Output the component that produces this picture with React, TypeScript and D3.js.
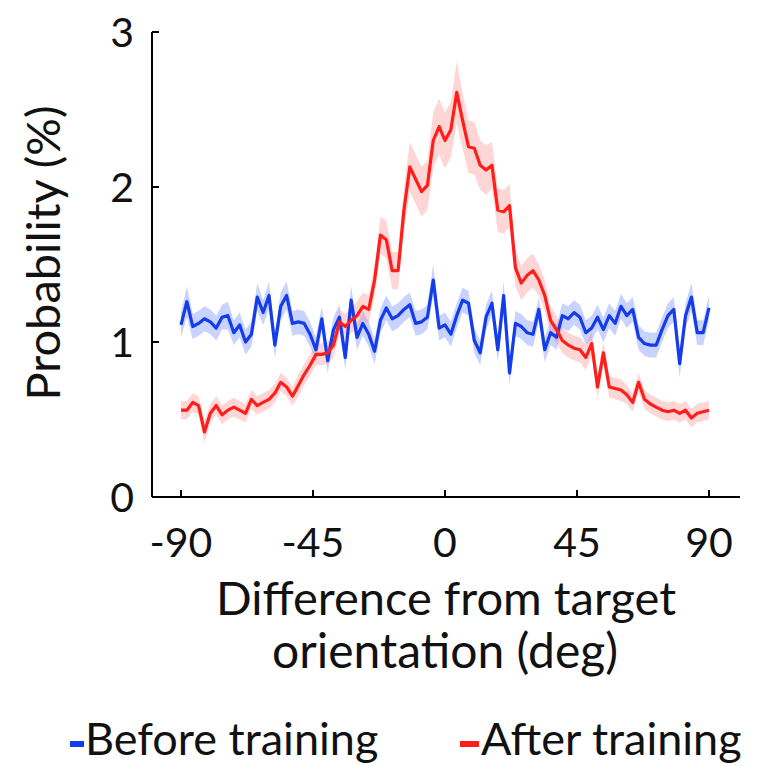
import React from "react";
import * as d3 from "d3";

const xValues: number[] = d3.range(-90, 91, 2);

const beforeMean: number[] = [
  1.11, 1.26, 1.10, 1.12, 1.15, 1.13, 1.09, 1.16, 1.17, 1.06,
  1.11, 1.00, 1.05, 1.29, 1.19, 1.30, 0.98, 1.23, 1.30, 1.12,
  1.13, 1.12, 1.05, 0.95, 1.15, 0.88, 1.08, 1.16, 0.90, 1.27,
  1.03, 1.12, 1.05, 0.94, 1.14, 1.22, 1.15, 1.17, 1.21, 1.24,
  1.12, 1.13, 1.16, 1.40, 1.09, 1.11, 1.05, 1.17, 1.27, 1.25,
  1.01, 0.93, 1.16, 1.25, 0.95, 1.30, 0.80, 1.12, 1.10, 1.06,
  1.05, 1.21, 0.95, 1.06, 1.03, 1.17, 1.15, 1.19, 1.16, 1.06,
  1.09, 1.16, 1.08, 1.17, 1.12, 1.23, 1.17, 1.21, 1.03, 0.99,
  0.98, 0.98, 1.08, 1.17, 1.21, 0.86, 1.17, 1.29, 1.06, 1.06,
  1.22,
];

const afterMean: number[] = [
  0.56, 0.56, 0.61, 0.59, 0.42, 0.54, 0.59, 0.53, 0.56, 0.58,
  0.56, 0.54, 0.63, 0.59, 0.61, 0.63, 0.67, 0.74, 0.71, 0.65,
  0.72, 0.79, 0.85, 0.92, 0.92, 0.93, 0.98, 1.13, 1.10, 1.14,
  1.17, 1.23, 1.21, 1.40, 1.69, 1.66, 1.46, 1.46, 1.85, 2.13,
  2.05, 1.97, 2.01, 2.30, 2.39, 2.30, 2.37, 2.61, 2.43, 2.26,
  2.25, 2.14, 2.11, 2.14, 1.85, 1.84, 1.88, 1.48, 1.38, 1.43,
  1.46, 1.40, 1.30, 1.14, 1.08, 1.01, 0.98, 0.96, 0.95, 0.90,
  0.99, 0.71, 0.93, 0.71, 0.70, 0.69, 0.66, 0.61, 0.74, 0.63,
  0.60, 0.58, 0.56, 0.55, 0.56, 0.54, 0.56, 0.51, 0.54, 0.55,
  0.56,
];

const beforeErr: number[] = [
  0.08, 0.10, 0.08, 0.08, 0.08, 0.08, 0.08, 0.08, 0.09, 0.08,
  0.08, 0.08, 0.08, 0.09, 0.08, 0.09, 0.08, 0.09, 0.09, 0.08,
  0.08, 0.08, 0.08, 0.08, 0.08, 0.08, 0.08, 0.08, 0.08, 0.09,
  0.08, 0.08, 0.08, 0.08, 0.08, 0.08, 0.08, 0.08, 0.08, 0.08,
  0.08, 0.08, 0.08, 0.10, 0.08, 0.08, 0.08, 0.08, 0.08, 0.08,
  0.08, 0.08, 0.08, 0.08, 0.08, 0.09, 0.08, 0.08, 0.08, 0.08,
  0.08, 0.08, 0.08, 0.08, 0.08, 0.08, 0.08, 0.08, 0.08, 0.08,
  0.08, 0.08, 0.08, 0.08, 0.08, 0.08, 0.08, 0.08, 0.08, 0.08,
  0.08, 0.08, 0.08, 0.08, 0.08, 0.09, 0.08, 0.09, 0.08, 0.08,
  0.08,
];

const afterErr: number[] = [
  0.06, 0.06, 0.06, 0.06, 0.07, 0.06, 0.06, 0.06, 0.06, 0.06,
  0.06, 0.06, 0.06, 0.06, 0.06, 0.06, 0.06, 0.06, 0.06, 0.06,
  0.07, 0.07, 0.07, 0.07, 0.07, 0.07, 0.08, 0.08, 0.08, 0.08,
  0.09, 0.09, 0.09, 0.10, 0.12, 0.12, 0.12, 0.12, 0.14, 0.16,
  0.16, 0.16, 0.16, 0.18, 0.18, 0.18, 0.18, 0.20, 0.18, 0.17,
  0.17, 0.16, 0.16, 0.15, 0.14, 0.14, 0.14, 0.12, 0.11, 0.11,
  0.11, 0.10, 0.10, 0.09, 0.09, 0.08, 0.08, 0.08, 0.08, 0.08,
  0.08, 0.07, 0.07, 0.07, 0.07, 0.07, 0.06, 0.06, 0.06, 0.06,
  0.06, 0.06, 0.06, 0.06, 0.06, 0.06, 0.06, 0.06, 0.06, 0.06,
  0.06,
];

const xTicks: number[] = [-90, -45, 0, 45, 90];
const yTicks: number[] = [0, 1, 2, 3];

const FONT = "Lato, 'Open Sans', sans-serif";

export default function App() {
  const W = 768;
  const H = 766;
  const x = d3.scaleLinear().domain([-90, 90]).range([181, 709]);
  const y = d3.scaleLinear().domain([0, 3]).range([497, 32]);

  const mkArea = (mean: number[], err: number[]) =>
    d3
      .area<number>()
      .x((_, i) => x(xValues[i]))
      .y0((d, i) => y(d - err[i]))
      .y1((d, i) => y(d + err[i]))(mean) || "";
  const mkLine = (mean: number[]) =>
    d3
      .line<number>()
      .x((_, i) => x(xValues[i]))
      .y((d) => y(d))(mean) || "";

  const axisLeft = 152;
  const axisRight = 740;
  const axisBottom = 497;

  return (
    <svg
      width={W}
      height={H}
      style={{ position: "absolute", left: 0, top: 0, background: "#fff" }}
    >
      <rect x={0} y={0} width={W} height={H} fill="#fff" />
      <path d={mkArea(beforeMean, beforeErr)} fill="rgb(120,145,255)" fillOpacity={0.4} />
      <path d={mkArea(afterMean, afterErr)} fill="rgb(255,120,120)" fillOpacity={0.3} />
      <path d={mkLine(beforeMean)} fill="none" stroke="rgb(20,60,235)" strokeWidth={3.2} strokeLinejoin="round" />
      <path d={mkLine(afterMean)} fill="none" stroke="rgb(255,30,25)" strokeWidth={3.2} strokeLinejoin="round" />

      {/* axes */}
      <line x1={axisLeft} x2={axisLeft} y1={32} y2={axisBottom} stroke="#000" strokeWidth={2} />
      <line x1={axisLeft} x2={axisRight} y1={axisBottom} y2={axisBottom} stroke="#000" strokeWidth={2} />
      {yTicks.map((t) => (
        <g key={"y" + t}>
          <line x1={axisLeft} x2={axisLeft + 7} y1={y(t)} y2={y(t)} stroke="#000" strokeWidth={2} />
          <text
            x={axisLeft - 18}
            y={y(t)}
            dy="0.36em"
            textAnchor="end"
            fontFamily={FONT}
            fontSize={41}
            fill="#111"
          >
            {t}
          </text>
        </g>
      ))}
      {xTicks.map((t) => (
        <g key={"x" + t}>
          <line x1={x(t)} x2={x(t)} y1={axisBottom} y2={axisBottom - 7} stroke="#000" strokeWidth={2} />
          <text
            x={x(t)}
            y={557}
            textAnchor="middle"
            fontFamily={FONT}
            fontSize={41}
            fill="#111"
          >
            {t}
          </text>
        </g>
      ))}

      <text
        transform="translate(60,253) rotate(-90)"
        textAnchor="middle"
        fontFamily={FONT}
        fontSize={47}
        fill="#111"
      >
        Probability (%)
      </text>
      <text x={446} y={615} textAnchor="middle" fontFamily={FONT} fontSize={47} fill="#111">
        Difference from target
      </text>
      <text x={445} y={668} textAnchor="middle" fontFamily={FONT} fontSize={48} fill="#111">
        orientation (deg)
      </text>

      {/* legend */}
      <line x1={70} x2={84} y1={744} y2={744} stroke="rgb(20,60,235)" strokeWidth={6} />
      <text x={85} y={755} fontFamily={FONT} fontSize={45} fill="#111">
        Before training
      </text>
      <line x1={460} x2={479} y1={744} y2={744} stroke="rgb(255,30,25)" strokeWidth={6} />
      <text x={481} y={755} fontFamily={FONT} fontSize={45} fill="#111">
        After training
      </text>
    </svg>
  );
}
